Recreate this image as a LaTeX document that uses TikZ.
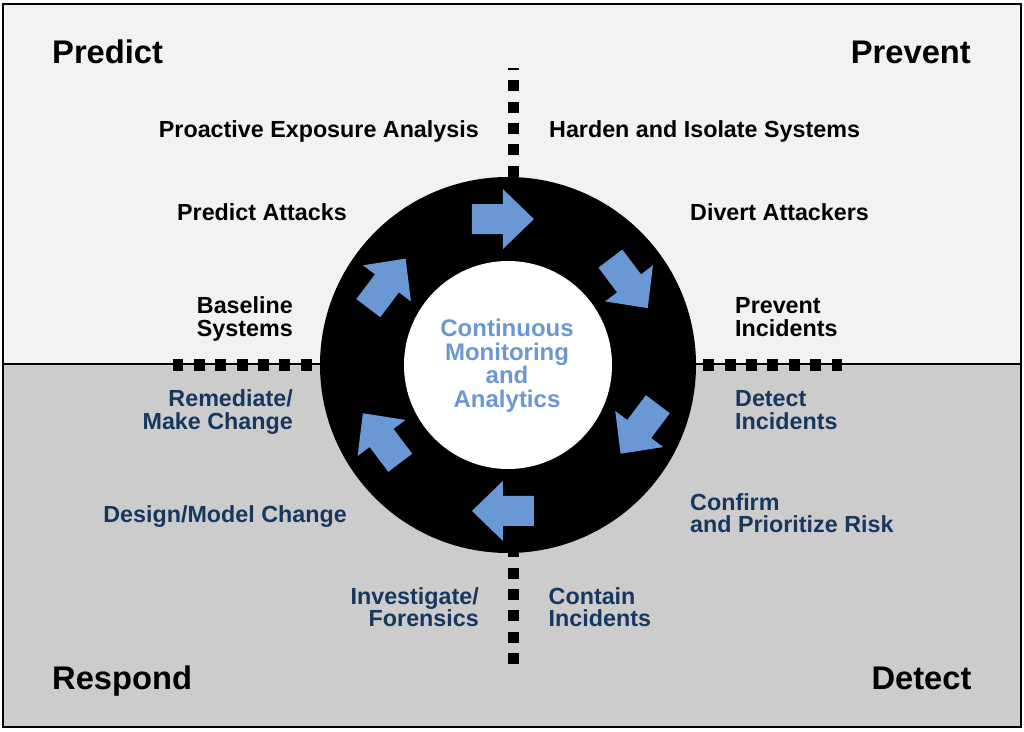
\documentclass[tikz,border=0pt]{standalone}
\usepackage{fontspec}
\setmainfont{Liberation Sans}
\usepackage{tikz}

\definecolor{azul}{RGB}{106,152,212}
\definecolor{marino}{RGB}{23,55,94}
\definecolor{fondoarriba}{RGB}{242,242,242}
\definecolor{fondoabajo}{RGB}{204,204,204}

\begin{document}
\begin{tikzpicture}[x=1pt,y=1pt,
% Estilo de los títulos
titulo/.style={inner sep=0pt, font=\fontsize{32.7}{36}\selectfont\bfseries},
% Estilo de las etiquetas
etiq/.style={inner sep=0pt, font=\fontsize{23.3}{22.7}\selectfont\bfseries},
etiqabajo/.style={etiq, text=marino},
% Estilo del anillo
anillo/.style={circle, inner sep=0pt, minimum size=376pt, fill=black},
centro/.style={circle, inner sep=0pt, minimum size=208pt, fill=white},
% Estilo de los ejes punteados
eje/.style={line width=11.5pt, dash pattern=on 11pt off 10.4pt},
% Estilo de las flechas
flecha/.style={fill=azul},
]
\useasboundingbox (0,0) rectangle (1024,731);

% Fondo
\fill[fondoarriba] (2.5,367) rectangle (1020.5,726.5);
\fill[fondoabajo] (2.5,4.5) rectangle (1020.5,367);
\draw[line width=1.2pt] (2.5,367) -- (1020.5,367);
\draw[line width=2pt] (2.5,4.5) rectangle (1020.5,726.5);

% Anillo
\node (anillo) at (508,366) [anillo]{};
\node (centro) at (508,366) [centro]{};

% Ejes
\coordinate (ejeN) at (513.5,663);
\coordinate (ejeS) at (513.5,66);
\coordinate (ejeO) at (172.6,366);
\coordinate (ejeE) at (842.4,366);
\draw[eje] (ejeN |- anillo.north) -- (ejeN);
\draw[eje, dash phase=7pt] (ejeS |- anillo.south) -- (ejeS);
\draw[eje, dash phase=13.4pt] (anillo.west) -- (ejeO);
\draw[eje, dash phase=14.4pt] (anillo.east) -- (ejeE);

% Flechas
\foreach \ang/\rot in {92/0, 34/-53, -26/-127, -92/180, -150/127, 146/53}
  \fill[flecha, shift={(anillo.center)}, shift={(\ang:146)}, rotate=\rot]
    (-31,-15) -- (0,-15) -- (0,-30) -- (31,0) -- (0,30) -- (0,15) -- (-31,15) -- cycle;

% Texto central (la base es la de la última línea)
\node (texto) at (507,323.7) [etiq, anchor=base, align=center, text=azul,
  font=\fontsize{24}{23.5}\selectfont\bfseries]{Continuous\\Monitoring\\and\\Analytics};

% Títulos
\node (predict) at (52,667.7) [titulo, anchor=base west]{Predict};
\node (prevent) at (971,667.7) [titulo, anchor=base east]{Prevent};
\node (respond) at (52,41.7) [titulo, anchor=base west]{Respond};
\node (detect) at (971.7,41.7) [titulo, anchor=base east]{Detect};

% Etiquetas de arriba
\node (proactive) at (479,593.7) [etiq, anchor=base east]{Proactive Exposure Analysis};
\node (predictatt) at (347,510.3) [etiq, anchor=base east]{Predict Attacks};
\node (baseline) at (293,394.3) [etiq, anchor=base east, align=right]{Baseline\\Systems};
\node (harden) at (549,593.7) [etiq, anchor=base west]{Harden and Isolate Systems};
\node (divert) at (690,510.3) [etiq, anchor=base west]{Divert Attackers};
\node (preventinc) at (735,394.3) [etiq, anchor=base west, align=left]{Prevent\\Incidents};

% Etiquetas de abajo
\node (remediate) at (293,301.7) [etiqabajo, anchor=base east, align=right]{Remediate/\\Make Change};
\node (design) at (347,208.3) [etiqabajo, anchor=base east]{Design/Model Change};
\node (investigate) at (479,104.3) [etiqabajo, anchor=base east, align=right]{Investigate/\\Forensics};
\node (detectinc) at (735,301.7) [etiqabajo, anchor=base west, align=left]{Detect\\Incidents};
\node (confirm) at (690,198.3) [etiqabajo, anchor=base west, align=left]{Confirm\\and Prioritize Risk};
\node (contain) at (548.5,104.3) [etiqabajo, anchor=base west, align=left]{Contain\\Incidents};
\end{tikzpicture}
\end{document}
